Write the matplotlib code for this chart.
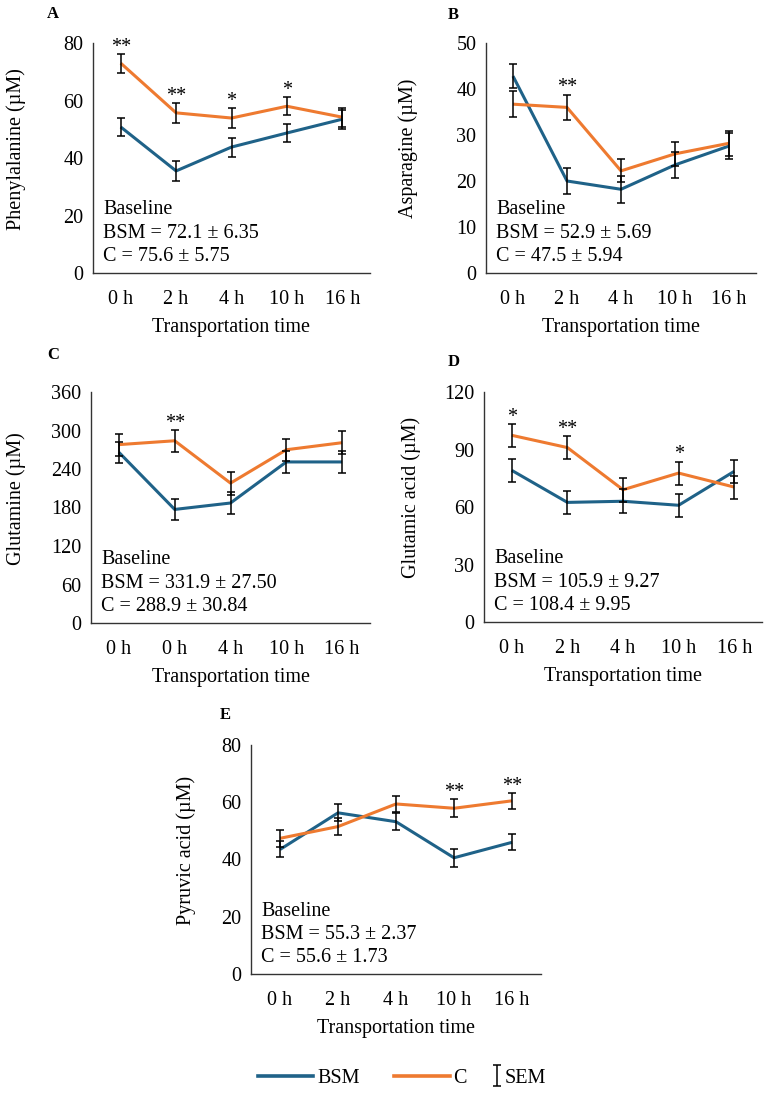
import matplotlib
matplotlib.use("Agg")
import matplotlib.pyplot as plt
from matplotlib.lines import Line2D
import numpy as np

plt.rcParams['font.family'] = ['Liberation Serif', 'DejaVu Serif']

# ---------------- data ----------------
times_ABDE = ['0 h', '2 h', '4 h', '10 h', '16 h']
times_C = ['0 h', '0 h', '4 h', '10 h', '16 h']

phe_bsm = [50.8, 35.5, 43.8, 48.7, 53.5]
phe_bsm_sem = [3.2, 3.4, 3.3, 3.2, 3.3]
phe_c = [73.0, 55.7, 53.9, 58.0, 54.2]
phe_c_sem = [3.3, 3.5, 3.4, 3.2, 3.3]
phe_sig = ['**', '**', '*', '*', '']

asn_bsm = [42.8, 20.0, 18.2, 23.5, 27.6]
asn_bsm_sem = [2.6, 2.8, 2.9, 2.8, 2.8]
asn_c = [36.7, 36.0, 22.2, 25.9, 28.2]
asn_c_sem = [2.8, 2.8, 2.5, 2.6, 2.7]
asn_sig = ['', '**', '', '', '']

gln_bsm = [266, 177, 187, 251, 251]
gln_bsm_sem = [16, 17, 17, 17, 17]
gln_c = [278, 284, 218, 270, 281]
gln_c_sem = [17, 17, 18, 17, 18]
gln_sig = ['', '**', '', '', '']

glu_bsm = [79.1, 62.4, 63.0, 60.9, 78.6]
glu_bsm_sem = [6.0, 6.0, 6.3, 6.0, 6.0]
glu_c = [97.4, 91.0, 69.0, 77.7, 70.4]
glu_c_sem = [6.0, 6.0, 6.3, 6.0, 6.0]
glu_sig = ['*', '**', '', '*', '']

pyr_bsm = [43.5, 56.3, 53.2, 40.6, 46.0]
pyr_bsm_sem = [2.8, 3.0, 2.9, 3.1, 2.8]
pyr_c = [47.4, 51.5, 59.4, 57.9, 60.5]
pyr_c_sem = [3.0, 2.9, 2.9, 3.2, 2.8]
pyr_sig = ['', '', '', '**', '**']

ylabels = ['Phenylalanine (µM)', 'Asparagine (µM)', 'Glutamine (µM)',
           'Glutamic acid (µM)', 'Pyruvic acid (µM)']
panel_letters = ['A', 'B', 'C', 'D', 'E']
yticks_max = [80, 50, 360, 120, 80]
yticks_step = [20, 10, 60, 30, 20]
baseline_bsm = ['72.1 ± 6.35', '52.9 ± 5.69', '331.9 ± 27.50', '105.9 ± 9.27', '55.3 ± 2.37']
baseline_c = ['75.6 ± 5.75', '47.5 ± 5.94', '288.9 ± 30.84', '108.4 ± 9.95', '55.6 ± 1.73']

# ---------------- style ----------------
BLUE = '#1f6288'
ORANGE = '#ee7a30'
FS = 14.5
W, H = 767, 1093

fig = plt.figure(figsize=(W / 100, H / 100), dpi=100)

# axes boxes in pixels: left, right, top, bottom
boxes = [
    (93, 370, 43, 273),
    (486, 756, 43, 273),
    (91, 370, 392, 623),
    (484, 762, 392, 622),
    (251, 541, 745, 974),
]
ylab_x = [-0.242, -0.252, -0.233, -0.227, -0.19]

panels = [
    (times_ABDE, phe_bsm, phe_bsm_sem, phe_c, phe_c_sem, phe_sig),
    (times_ABDE, asn_bsm, asn_bsm_sem, asn_c, asn_c_sem, asn_sig),
    (times_C, gln_bsm, gln_bsm_sem, gln_c, gln_c_sem, gln_sig),
    (times_ABDE, glu_bsm, glu_bsm_sem, glu_c, glu_c_sem, glu_sig),
    (times_ABDE, pyr_bsm, pyr_bsm_sem, pyr_c, pyr_c_sem, pyr_sig),
]

for k, (box, pdata) in enumerate(zip(boxes, panels)):
    l, r, t, b = box
    ax = fig.add_axes([l / W, 1 - b / H, (r - l) / W, (b - t) / H])
    cats, bsm, bsm_sem, c, c_sem, sig = pdata
    x = np.arange(len(cats))
    ax.plot(x, bsm, color=BLUE, lw=2.2, solid_capstyle='butt', zorder=2)
    ax.plot(x, c, color=ORANGE, lw=2.2, solid_capstyle='butt', zorder=3)
    ax.errorbar(x, bsm, yerr=bsm_sem, fmt='none', ecolor='black', elinewidth=1.1,
                capsize=3.2, capthick=1.1, zorder=4)
    ax.errorbar(x, c, yerr=c_sem, fmt='none', ecolor='black', elinewidth=1.1,
                capsize=3.2, capthick=1.1, zorder=4)
    for i, s in enumerate(sig):
        if s:
            top = max(bsm[i] + bsm_sem[i], c[i] + c_sem[i])
            ax.annotate(s, xy=(x[i], top), xytext=(0, 1.5), textcoords='offset points',
                        ha='center', va='baseline', fontsize=FS, annotation_clip=False)
    ax.set_xlim(-0.5, len(cats) - 0.5)
    ax.set_ylim(0, yticks_max[k])
    ax.set_yticks(np.arange(0, yticks_max[k] + 1, yticks_step[k]))
    ax.set_xticks(x)
    ax.set_xticklabels(cats)
    ax.tick_params(axis='both', length=0, labelsize=FS)
    ax.tick_params(axis='x', pad=12)
    ax.tick_params(axis='y', pad=7)
    for side in ['top', 'right']:
        ax.spines[side].set_visible(False)
    for side in ['left', 'bottom']:
        ax.spines[side].set_color('#333333')
        ax.spines[side].set_linewidth(1.0)
    ax.set_ylabel(ylabels[k], fontsize=FS)
    ax.yaxis.set_label_coords(ylab_x[k], 0.54)
    ax.set_xlabel('Transportation time', fontsize=FS)
    ax.xaxis.labelpad = 7
    dx = 10 / (r - l)
    ax.text(dx, 0.274, 'Baseline', transform=ax.transAxes, fontsize=FS, va='center', ha='left')
    ax.text(dx, 0.172, 'BSM = ' + baseline_bsm[k], transform=ax.transAxes, fontsize=FS,
            va='center', ha='left')
    ax.text(dx, 0.07, 'C = ' + baseline_c[k], transform=ax.transAxes, fontsize=FS,
            va='center', ha='left')

# panel letters
letter_pos = [(53, 14), (453, 15), (53, 355), (454, 362), (225, 715)]
for L, (px, py) in zip(panel_letters, letter_pos):
    fig.text(px / W, 1 - py / H, L, fontsize=12, fontweight='bold', ha='center', va='center')

# legend
h_bsm = Line2D([], [], color=BLUE, lw=2.6)
h_c = Line2D([], [], color=ORANGE, lw=2.6)
leg1 = fig.legend([h_bsm, h_c], ['BSM', 'C'], loc='center left',
                  bbox_to_anchor=(258 / W, 1 - 1078 / H), ncol=2, frameon=False,
                  fontsize=FS, handlelength=2.75, handletextpad=0.2, columnspacing=1.7,
                  borderpad=0, borderaxespad=0)
dummy_ax = fig.add_axes([0, 0, 0.001, 0.001])
dummy_ax.set_axis_off()
eb = dummy_ax.errorbar([np.nan], [np.nan], yerr=[1], fmt='none', ecolor='black',
                       elinewidth=1.1, capsize=3, capthick=1.1)
leg2 = fig.legend([eb], ['SEM'], loc='center left',
                  bbox_to_anchor=(490 / W, 1 - 1078 / H), frameon=False,
                  fontsize=FS, handlelength=0.7, handletextpad=0.05,
                  borderpad=0, borderaxespad=0)

fig.savefig('out.png', dpi=100)
